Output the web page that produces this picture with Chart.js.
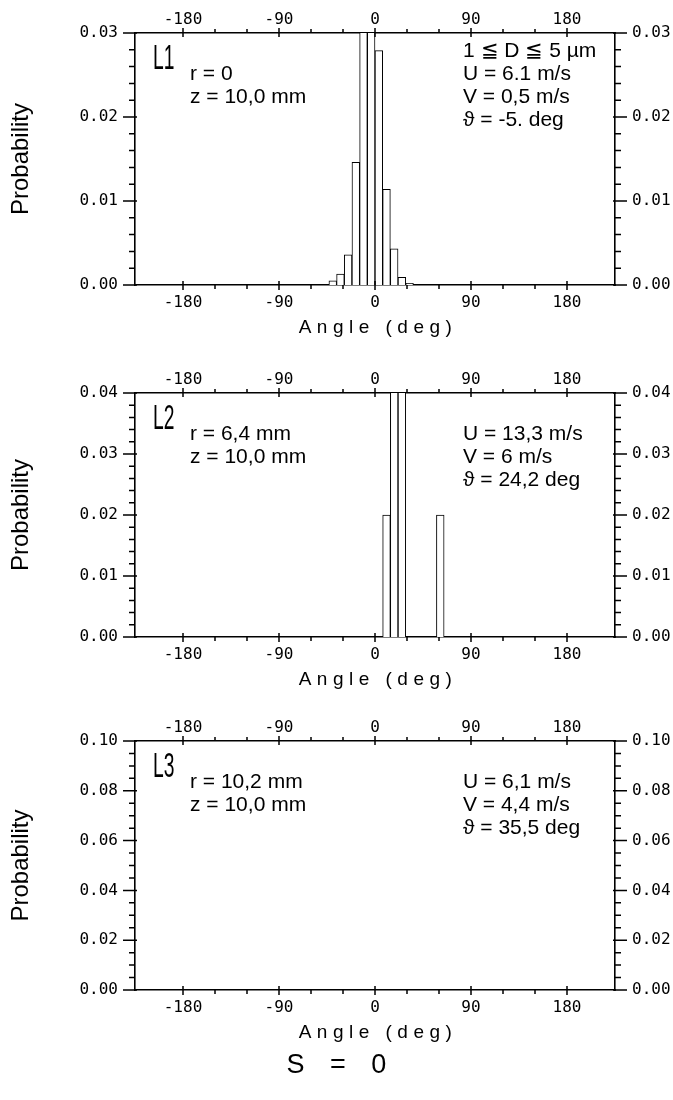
<!DOCTYPE html>
<html>
<head>
<meta charset="utf-8">
<script src="https://cdn.jsdelivr.net/npm/chart.js@4.4.0/dist/chart.umd.min.js"></script>
<style>
    body { margin: 0; background: #fff; width: 673px; height: 1100px; position: relative; overflow: hidden; }
    canvas { position: absolute; left: 0; }
    #title { position: absolute; left: 0; top: 1049px; width: 673px; text-align: center;
        font: 27px "Liberation Sans", Arial, sans-serif; letter-spacing: 9px; text-indent: 9px; color: #000; }
</style>
</head>
<body>
<canvas id="c1" width="673" height="350" style="top:0px"></canvas>
<canvas id="c2" width="673" height="350" style="top:360px"></canvas>
<canvas id="c3" width="673" height="350" style="top:708px"></canvas>
<div id="title">S = 0</div>
<script>
// bin centres in deg (bins are 7.2 deg wide) and probabilities
const angles1 = [-39.6, -32.4, -25.2, -18.0, -10.8, -3.6, 3.6, 10.8, 18.0, 25.2, 32.4];
const prob1 = [0.0005, 0.0013, 0.0036, 0.0146, 0.41, 0.46, 0.0279, 0.0114, 0.0043, 0.0009, 0.0002];
const angles2 = [10.8, 18.0, 25.2, 61.2];
const prob2 = [0.02, 0.46, 0.50, 0.02];
const angles3 = [];
const prob3 = [];

const yMax = [0.03, 0.04, 0.10];
const yStep = [0.01, 0.01, 0.02];
const yMinor = [0.002, 0.002, 0.005];
const plotHeights = [252, 244, 249];

const tags = ["L1", "L2", "L3"];
const notesLeft = [
    ["r = 0", "z = 10,0 mm"],
    ["r = 6,4 mm", "z = 10,0 mm"],
    ["r = 10,2 mm", "z = 10,0 mm"]
];
const notesRight = [
    ["1 ≦ D ≦ 5 µm", "U = 6.1 m/s", "V = 0,5 m/s", "ϑ = -5. deg"],
    ["", "U = 13,3 m/s", "V = 6 m/s", "ϑ = 24,2 deg"],
    ["", "U = 6,1 m/s", "V = 4,4 m/s", "ϑ = 35,5 deg"]
];

const tickFont = { family: "'DejaVu Sans Mono', monospace", size: 16 };
const textFamily = "'Liberation Sans', Arial, sans-serif";

const notesPlugin = {
    id: 'notes',
    afterDraw(chart, args, opts) {
        const ctx = chart.ctx;
        const a = chart.chartArea;
        const xs = chart.scales.x;
        const ys = chart.scales.y;
        ctx.save();
        ctx.strokeStyle = '#000';
        ctx.lineWidth = 1.5;
        ctx.beginPath();
        // x ticks every 30 deg, major every 90
        for (let v = -180; v <= 180; v += 30) {
            const px = xs.getPixelForValue(v);
            const major = v % 90 === 0;
            ctx.moveTo(px, a.bottom - (major ? 4 : 0));
            ctx.lineTo(px, a.bottom + (major ? 5 : 4));
            ctx.moveTo(px, a.top + (major ? 4 : 0));
            ctx.lineTo(px, a.top - (major ? 5 : 4));
        }
        const n = Math.round(opts.max / opts.minor);
        for (let k = 0; k <= n; k++) {
            const v = k * opts.minor;
            const py = ys.getPixelForValue(v);
            const r = v / opts.step;
            const major = Math.abs(r - Math.round(r)) < 1e-6;
            ctx.moveTo(a.left + (major ? 2 : 0), py);
            ctx.lineTo(a.left - (major ? 12 : 6), py);
            ctx.moveTo(a.right - (major ? 2 : 0), py);
            ctx.lineTo(a.right + (major ? 12 : 6), py);
        }
        ctx.stroke();

        ctx.fillStyle = '#000';
        ctx.textBaseline = 'middle';
        ctx.textAlign = 'left';
        // panel tag, narrow and tall
        ctx.save();
        ctx.translate(a.left + 18, a.top + 26);
        ctx.scale(0.55, 1);
        ctx.font = '35px ' + textFamily;
        ctx.fillText(opts.tag, 0, 0);
        ctx.restore();

        ctx.font = '21px ' + textFamily;
        opts.left.forEach(function (t, i) {
            ctx.fillText(t, a.left + 55, a.top + 41 + i * 23);
        });
        opts.right.forEach(function (t, i) {
            if (t) ctx.fillText(t, a.left + 328, a.top + 18 + i * 23);
        });

        // axis title with the wide letter spacing of the original
        ctx.font = '19px ' + textFamily;
        ctx.textAlign = 'center';
        ctx.letterSpacing = '5.5px';
        ctx.fillText('Angle (deg)', (a.left + a.right) / 2 + 3, a.bottom + 43);
        ctx.restore();
    }
};

function makePanel(id, idx, angles, probs) {
    const bottomH = 350 - 33 - plotHeights[idx];
    const ySide = function (pos, width) {
        return {
            type: 'linear',
            position: pos,
            min: 0,
            max: yMax[idx],
            ticks: {
                stepSize: yStep[idx],
                padding: 17,
                color: '#000',
                font: tickFont,
                callback: function (v) { return v.toFixed(2); }
            },
            grid: { display: false, drawTicks: false },
            border: { display: true, color: '#000', width: 1.6 },
            afterFit: function (s) { s.width = width; }
        };
    };
    const xSide = function (pos, height, pad) {
        return {
            type: 'linear',
            position: pos,
            min: -180,
            max: 180,
            ticks: { stepSize: 90, padding: pad, color: '#000', font: tickFont, maxRotation: 0, autoSkip: false },
            grid: { display: false, drawTicks: false },
            border: { display: true, color: '#000', width: 1.6 },
            afterFit: function (s) { s.height = height; }
        };
    };
    const yLeft = ySide('left', 135);
    yLeft.title = {
        display: true,
        text: 'Probability',
        color: '#000',
        font: { family: textFamily, size: 24 },
        padding: { top: 7, bottom: 0 }
    };

    new Chart(document.getElementById(id), {
        type: 'bar',
        data: {
            datasets: [{
                data: angles.map(function (a, i) { return { x: a, y: probs[i] }; }),
                backgroundColor: '#fff',
                borderColor: '#000',
                borderWidth: 1,
                barPercentage: 1,
                categoryPercentage: 1,
                xAxisID: 'x',
                yAxisID: 'y'
            }]
        },
        options: {
            responsive: false,
            animation: false,
            layout: { padding: 0 },
            plugins: {
                legend: { display: false },
                tooltip: { enabled: false },
                notes: {
                    tag: tags[idx],
                    left: notesLeft[idx],
                    right: notesRight[idx],
                    max: yMax[idx],
                    step: yStep[idx],
                    minor: yMinor[idx]
                }
            },
            scales: {
                x: xSide('bottom', bottomH, 8),
                x2: xSide('top', 33, 4),
                y: yLeft,
                y2: ySide('right', 58)
            }
        },
        plugins: [notesPlugin]
    });
}

makePanel('c1', 0, angles1, prob1);
makePanel('c2', 1, angles2, prob2);
makePanel('c3', 2, angles3, prob3);
</script>
</body>
</html>
